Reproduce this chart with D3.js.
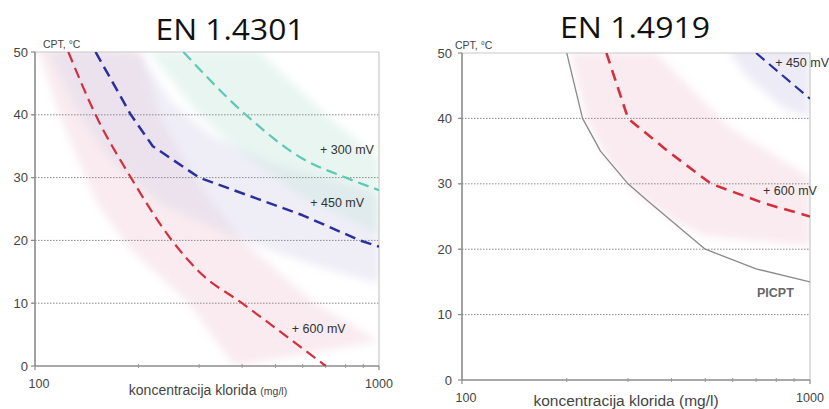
<!DOCTYPE html>
<html><head><meta charset="utf-8">
<script src="https://cdn.jsdelivr.net/npm/d3@7"></script>
<style>
html,body{margin:0;padding:0;background:#fff;}
svg{display:block;font-family:"Liberation Sans",Arial,sans-serif;}
</style></head>
<body>
<svg id="c" width="829" height="409"></svg>
<script>
// ---------- data ----------
const yTicks = [0, 10, 20, 30, 40, 50];
const xTickLabels = [100, 1000];
const xMinorTicks = [200, 300, 400, 500, 600, 700, 800, 900];

// EN 1.4301 curves  [chloride mg/l, CPT °C]
const a300 = [[270,50],[410,40],[600,33],[800,30],[1000,28]];
const a450 = [[150,50],[190,40],[220,35],[300,30],[450,26.5],[600,24],[880,20],[1000,19]];
const a600 = [[125,50],[150,40],[190,30],[250,20],[300,15],[400,10],[700,0]];
// scatter bands (lower edge, upper edge)
const a600BandLo = [[100,52],[118,40],[140,30],[155,25],[190,18.5],[280,10],[380,0]];
const a600BandHi = [[205,50],[230,40],[290,30],[400,20],[650,10],[1000,4]];
const a450BandLo = [[110,50],[135,40],[165,33],[230,26],[400,20],[650,16],[1000,13]];
const a450BandHi = [[200,50],[250,42],[320,37],[500,32],[800,29],[1000,27]];
const a300BandLo = [[215,50],[300,40],[420,33],[600,27],[1000,21]];
const a300BandHi = [[450,50],[700,40],[1000,33]];

// EN 1.4919 curves
const b450 = [[700,50],[1000,43]];
const b600 = [[260,50],[300,40],[390,35],[520,30],[740,27],[1000,25]];
const bPicpt = [[200,50],[222,40],[250,35],[300,30],[340,27.5],[500,20],[700,17],[1000,15]];
const b600BandLo = [[205,50],[228,40],[260,34],[310,29],[400,24.5],[500,22],[1000,20.5]];
const b600BandHi = [[360,50],[590,38.5],[1000,31]];
const b450BandLo = [[590,50],[640,47],[840,41.5],[1000,40]];
const b450BandHi = [[590,56],[1000,56]];

// labels [text, mg/l, °C]
const aLabels = [["+ 300 mV",674,33.8],["+ 450 mV",631,25.3],["+ 600 mV",558,5.3]];
const bLabels = [["+ 450 mV",794,47.9],["+ 600 mV",733,28.3],["PICPT",704,12.7]];

const titles = ["EN 1.4301", "EN 1.4919"];

// ---------- drawing ----------
const svg = d3.select("#c");
const defs = svg.append("defs");
const blur = defs.append("filter").attr("id","soft").attr("x","-20%").attr("y","-20%").attr("width","140%").attr("height","140%");
blur.append("feGaussianBlur").attr("stdDeviation",4);

function panel(o){
  const x = d3.scaleLog().domain([100,1000]).range([o.x0,o.x1]);
  const y = d3.scaleLinear().domain([0,50]).range([o.y0,o.y1]);
  const g = svg.append("g");
  const cid = "clip"+o.id;
  defs.append("clipPath").attr("id",cid).append("rect")
    .attr("x",o.x0).attr("y",o.y1).attr("width",o.x1-o.x0).attr("height",o.y0-o.y1);

  const line = d3.line().x(d=>x(d[0])).y(d=>y(d[1]));
  const smooth = d3.line().x(d=>x(d[0])).y(d=>y(d[1])).curve(d3.curveMonotoneX);
  // bands
  const bg = g.append("g").attr("clip-path",`url(#${cid})`).append("g").attr("filter","url(#soft)");
  o.bands.forEach(b=>{
    const pts = b.lo.concat(b.hi.slice().reverse());
    bg.append("path").attr("d", line(pts)+"Z").attr("fill",b.color).attr("opacity",b.op);
  });

  // grid
  yTicks.filter(v=>v>0 && v<50).forEach(v=>{
    g.append("line").attr("x1",o.x0-3).attr("x2",o.x1).attr("y1",y(v)).attr("y2",y(v))
      .attr("stroke","#8a8a8a").attr("stroke-width",1).attr("stroke-dasharray","1.5,1.5");
  });
  // frame
  g.append("line").attr("x1",o.x0).attr("x2",o.x1).attr("y1",y(50)).attr("y2",y(50)).attr("stroke","#c8c8c8").attr("stroke-width",1.2);
  g.append("line").attr("x1",o.x1).attr("x2",o.x1).attr("y1",y(50)).attr("y2",y(0)).attr("stroke","#c8c8c8").attr("stroke-width",1.2);
  g.append("line").attr("x1",o.x0).attr("x2",o.x1).attr("y1",y(0)).attr("y2",y(0)).attr("stroke","#8c8c8c").attr("stroke-width",1.4);
  g.append("line").attr("x1",o.x0).attr("x2",o.x0).attr("y1",y(50)).attr("y2",y(0)).attr("stroke","#8c8c8c").attr("stroke-width",1.6);
  yTicks.forEach(v=>{
    g.append("line").attr("x1",o.x0-4).attr("x2",o.x0).attr("y1",y(v)).attr("y2",y(v)).attr("stroke","#8c8c8c").attr("stroke-width",1.2);
    g.append("text").attr("x",o.x0-o.lblGap).attr("y",y(v)+4.5).attr("text-anchor","end")
      .attr("font-size",13).attr("fill","#444").text(v);
  });
  xMinorTicks.forEach(v=>{
    g.append("line").attr("x1",x(v)).attr("x2",x(v)).attr("y1",y(0)-2).attr("y2",y(0)+2).attr("stroke","#999").attr("stroke-width",1);
  });
  xTickLabels.forEach(v=>{
    g.append("line").attr("x1",x(v)).attr("x2",x(v)).attr("y1",y(0)).attr("y2",y(0)+4).attr("stroke","#8c8c8c").attr("stroke-width",1.2);
    g.append("text").attr("x",x(v)+(v===100?4:0)).attr("y",y(0)+o.xlblDy).attr("text-anchor","middle")
      .attr("font-size",12.5).attr("fill","#444").text(v);
  });

  // curves
  const cg = g.append("g").attr("clip-path",`url(#${cid})`);
  o.curves.forEach(c=>{
    cg.append("path").attr("d",(c.smooth?smooth:line)(c.data)).attr("fill","none").attr("stroke",c.color)
      .attr("stroke-width",c.w).attr("stroke-dasharray",c.dash||null).attr("stroke-linejoin","round");
  });

  // labels
  o.labels.forEach(l=>{
    g.append("text").attr("x",x(l[1])).attr("y",y(l[2])).attr("font-size",l[0]==="PICPT"?12.5:12.5)
      .attr("font-weight",l[0]==="PICPT"?"bold":"normal")
      .attr("fill",l[0]==="PICPT"?"#666":"#333").text(l[0]);
  });

  // axis captions
  g.append("text").attr("x",o.cptX).attr("y",y(50)-4).attr("font-size",10.5).attr("fill","#444").text("CPT, °C");
  const t = g.append("text").attr("x",(o.x0+o.x1)/2 + o.xtDx).attr("y",o.xtY).attr("text-anchor","middle")
    .attr("font-size",o.xtSize).attr("fill","#444");
  t.append("tspan").text("koncentracija klorida ");
  t.append("tspan").attr("font-size",o.unitSize).text("(mg/l)");

  // title
  svg.append("text").attr("x",o.titleX).attr("y",o.titleY).attr("text-anchor","middle")
    .attr("font-family","'Open Sans','Noto Sans',sans-serif").attr("font-size",30).attr("fill","#111")
    .attr("textLength",o.titleW).attr("lengthAdjust","spacingAndGlyphs").text(o.title);
}

panel({id:"a", x0:35, x1:379, y0:366, y1:52, lblGap:7, xlblDy:22, cptX:43,
  xtDx:1, xtY:395, xtSize:14, unitSize:10.5, title:titles[0], titleX:230, titleY:40, titleW:149,
  bands:[
    {lo:a600BandLo, hi:a600BandHi, color:"#f0cdd6", op:0.4},
    {lo:a450BandLo, hi:a450BandHi, color:"#d6d4ea", op:0.4},
    {lo:a300BandLo, hi:a300BandHi, color:"#cce8e0", op:0.45}
  ],
  curves:[
    {data:a300, color:"#5ec8b6", w:2.2, dash:"11,6", smooth:true},
    {data:a450, color:"#2b2f9e", w:2.5, dash:"11,6"},
    {data:a600, color:"#d2303d", w:2.2, dash:"11,6", smooth:true}
  ],
  labels:aLabels});

panel({id:"b", x0:462, x1:810, y0:380, y1:53, lblGap:10, xlblDy:22, cptX:455,
  xtDx:-10, xtY:406, xtSize:15.5, unitSize:15.5, title:titles[1], titleX:635, titleY:38, titleW:150,
  bands:[
    {lo:b600BandLo, hi:b600BandHi, color:"#f0cdd6", op:0.4},
    {lo:b450BandLo, hi:b450BandHi, color:"#d6d4ea", op:0.45}
  ],
  curves:[
    {data:bPicpt, color:"#8a8a8a", w:1.3},
    {data:b600, color:"#d2303d", w:2.6, dash:"11,7"},
    {data:b450, color:"#2b2f9e", w:2.2, dash:"11,6"}
  ],
  labels:bLabels});
</script>
</body></html>
